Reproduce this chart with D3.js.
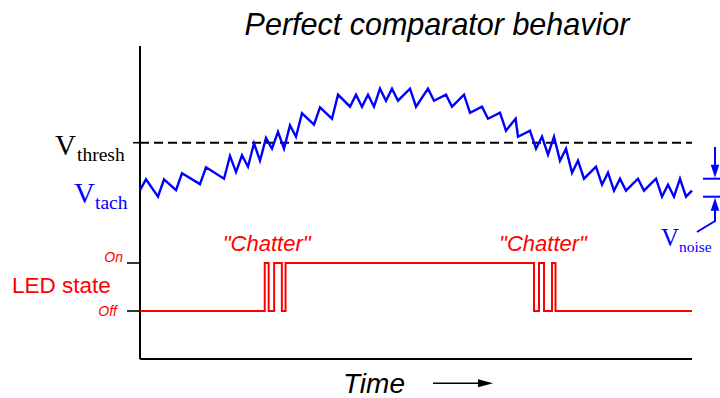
<!DOCTYPE html>
<html>
<head>
<meta charset="utf-8">
<script src="https://cdn.jsdelivr.net/npm/d3@7/dist/d3.min.js"></script>
<style>
  html, body { margin: 0; padding: 0; background: #fff; }
  svg { display: block; }
</style>
</head>
<body>
<svg id="chart" width="720" height="398"></svg>
<script>
// Tachometer signal: time samples and voltage level (arbitrary units)
const tachTime = [0,1,3,4,6,7,10,11,14,15,16,17,18,19,20,21,22,23,24,25,26,27,29,30,32,33,35,36,37,38,
  39,40,41,42,43,45,46,48,49,51,52,54,55,57,58,60,61,62.6,63,65,66,67,68,69,70,71,72,73,74,76,
  77,78,79,80,81,83,84,86,87,88,89,90,91,92];
const tachLevel = [1.1,2.9,0,2.9,1.1,3.9,2.1,4.9,3,6.8,4.1,6.9,5,8.9,6,9.8,8,10.8,8,11.9,10,13.9,12,14.9,13,17,15,17,15,17,
  15,18,16,18,16,18,15,18,16,17,15,17,14,15,13,14,11,13,10,11,8,10,7,10,6,8,4,6,3,5,
  2,4,1,3,1,3,1,3,0,2,0,3,0,1];

// Comparator threshold and noise band (same units as tachLevel)
const threshold = 9;
const noiseBand = [0, 3];

// LED states
const ledStates = [0, 1];
const ledStateLabels = ["Off", "On"];
const timeDomain = [0, 92];

const svg = d3.select("#chart");

const x = d3.scaleLinear().domain(timeDomain).range([140, 692]);
const yT = d3.scaleLinear().domain([0, 9]).range([196.7, 142.7]);
const yL = d3.scaleLinear().domain([0, 1]).range([311, 263]);

const sans = "'Liberation Sans', Arial, Helvetica, sans-serif";
const serif = "'Liberation Serif', 'Times New Roman', serif";

// Perfect comparator: LED turns on whenever tach exceeds threshold
const tach = tachTime.map((t, i) => ({ t, v: tachLevel[i] }));
const led = [];
let state = tach[0].v > threshold ? 1 : 0;
led.push({ t: tach[0].t, s: state });
for (let i = 1; i < tach.length; i++) {
  const a = tach[i - 1], b = tach[i];
  const sb = b.v > threshold ? 1 : 0;
  if (sb !== state) {
    const tc = a.t + (threshold - a.v) / (b.v - a.v) * (b.t - a.t);
    led.push({ t: tc, s: state });
    led.push({ t: tc, s: sb });
    state = sb;
  }
}
led.push({ t: tach[tach.length - 1].t, s: state });

// Axes frame
svg.append("line").attr("x1", 140).attr("x2", 140).attr("y1", 46).attr("y2", 359)
  .attr("stroke", "#000").attr("stroke-width", 2);
svg.append("line").attr("x1", 140).attr("x2", x(timeDomain[1])).attr("y1", 359).attr("y2", 359)
  .attr("stroke", "#000").attr("stroke-width", 2);

// Ticks
svg.append("line").attr("x1", 133).attr("x2", 140).attr("y1", yT(threshold)).attr("y2", yT(threshold))
  .attr("stroke", "#000").attr("stroke-width", 1.6);
ledStates.forEach(s => {
  svg.append("line").attr("x1", 127).attr("x2", 140).attr("y1", yL(s)).attr("y2", yL(s))
    .attr("stroke", "#000").attr("stroke-width", 1.6);
});

// Threshold dashed line
svg.append("line").attr("x1", x(timeDomain[0])).attr("x2", x(timeDomain[1]))
  .attr("y1", yT(threshold)).attr("y2", yT(threshold))
  .attr("stroke", "#000").attr("stroke-width", 2).attr("stroke-dasharray", "9,5");

// Tach signal
svg.append("path").datum(tach)
  .attr("d", d3.line().x(d => x(d.t)).y(d => yT(d.v)))
  .attr("fill", "none").attr("stroke", "#0000ff").attr("stroke-width", 2.4);

// LED state trace
svg.append("path").datum(led)
  .attr("d", d3.line().x(d => x(d.t)).y(d => yL(d.s)))
  .attr("fill", "none").attr("stroke", "#ff0000").attr("stroke-width", 2);

// Title
svg.append("text").attr("x", 437).attr("y", 35).attr("text-anchor", "middle")
  .attr("font-family", sans).attr("font-style", "italic").attr("font-size", 30.5)
  .text("Perfect comparator behavior");

// Left labels
svg.append("text").attr("x", 55).attr("y", 155).attr("font-family", serif).attr("font-size", 29).text("V");
svg.append("text").attr("x", 77).attr("y", 161).attr("font-family", serif).attr("font-size", 19.5).text("thresh");
svg.append("text").attr("x", 74).attr("y", 203).attr("font-family", serif).attr("font-size", 29)
  .attr("fill", "#0000ff").text("V");
svg.append("text").attr("x", 95).attr("y", 209).attr("font-family", serif).attr("font-size", 19.5)
  .attr("fill", "#0000ff").text("tach");

svg.append("text").attr("x", 12).attr("y", 293).attr("font-family", sans).attr("font-size", 22.5)
  .attr("fill", "#ff0000").text("LED state");
svg.append("text").attr("x", 123).attr("y", 262).attr("text-anchor", "end")
  .attr("font-family", sans).attr("font-style", "italic").attr("font-size", 14)
  .attr("fill", "#ff0000").text(ledStateLabels[1]);
svg.append("text").attr("x", 117).attr("y", 316).attr("text-anchor", "end")
  .attr("font-family", sans).attr("font-style", "italic").attr("font-size", 14)
  .attr("fill", "#ff0000").text(ledStateLabels[0]);

// Chatter labels
[266.7, 543].forEach(cx => {
  svg.append("text").attr("x", cx).attr("y", 251).attr("text-anchor", "middle")
    .attr("font-family", sans).attr("font-style", "italic").attr("font-size", 22)
    .attr("fill", "#ff0000").text("\"Chatter\"");
});

// Time label and arrow
svg.append("text").attr("x", 343).attr("y", 393).attr("font-family", sans)
  .attr("font-style", "italic").attr("font-size", 28).text("Time");
svg.append("line").attr("x1", 433).attr("x2", 480).attr("y1", 383.3).attr("y2", 383.3)
  .attr("stroke", "#000").attr("stroke-width", 1.5);
svg.append("path").attr("d", "M478,379.3 L493,383.3 L478,387.3 Z").attr("fill", "#000");

// Noise band annotation
const ax = 715;
const yTop = yT(noiseBand[1]), yBot = yT(noiseBand[0]);
[yTop, yBot].forEach(yy => {
  svg.append("line").attr("x1", 703).attr("x2", 724).attr("y1", yy).attr("y2", yy)
    .attr("stroke", "#0000ff").attr("stroke-width", 2);
});
svg.append("line").attr("x1", ax).attr("x2", ax).attr("y1", 147).attr("y2", yTop - 10)
  .attr("stroke", "#0000ff").attr("stroke-width", 2);
svg.append("path").attr("d", `M${ax - 4.3},${yTop - 14} L${ax},${yTop - 1} L${ax + 4.3},${yTop - 14} Z`)
  .attr("fill", "#0000ff");
svg.append("polyline").attr("points", `${ax},${yBot + 10} ${ax},221 697,232`)
  .attr("fill", "none").attr("stroke", "#0000ff").attr("stroke-width", 2);
svg.append("path").attr("d", `M${ax - 4.3},${yBot + 14} L${ax},${yBot + 1} L${ax + 4.3},${yBot + 14} Z`)
  .attr("fill", "#0000ff");
svg.append("text").attr("x", 661).attr("y", 246).attr("font-family", serif).attr("font-size", 25)
  .attr("fill", "#0000ff").text("V");
svg.append("text").attr("x", 679).attr("y", 252).attr("font-family", serif).attr("font-size", 15.5)
  .attr("fill", "#0000ff").text("noise");
</script>
</body>
</html>
